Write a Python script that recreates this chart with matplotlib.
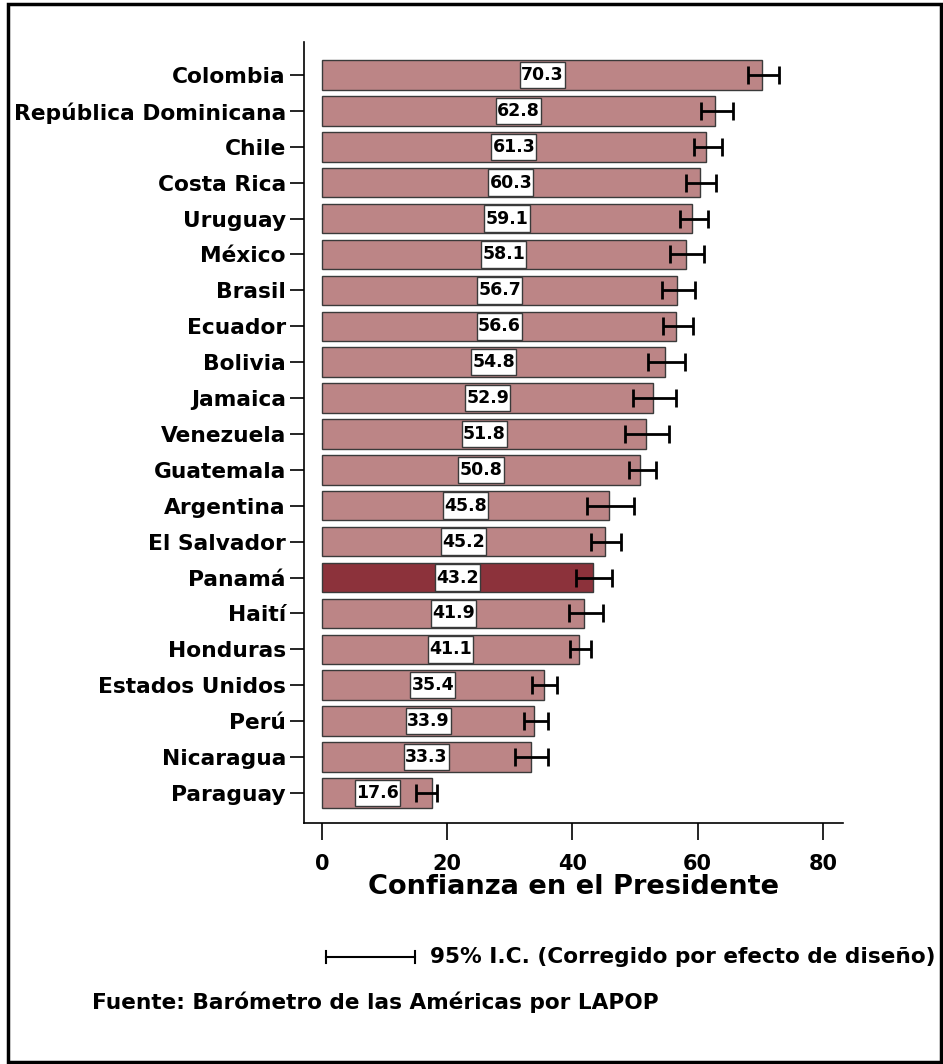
import matplotlib
matplotlib.use("Agg")
import matplotlib.pyplot as plt
from matplotlib.patches import Rectangle
from matplotlib.lines import Line2D

plt.rcParams['font.family'] = ['DejaVu Sans']
plt.rcParams['font.weight'] = 'bold'

countries = ['Colombia', 'República Dominicana', 'Chile', 'Costa Rica', 'Uruguay',
             'México', 'Brasil', 'Ecuador', 'Bolivia', 'Jamaica', 'Venezuela',
             'Guatemala', 'Argentina', 'El Salvador', 'Panamá', 'Haití', 'Honduras',
             'Estados Unidos', 'Perú', 'Nicaragua', 'Paraguay']
values = [70.3, 62.8, 61.3, 60.3, 59.1, 58.1, 56.7, 56.6, 54.8, 52.9, 51.8,
          50.8, 45.8, 45.2, 43.2, 41.9, 41.1, 35.4, 33.9, 33.3, 17.6]
ci_low = [68.0, 60.5, 59.4, 58.1, 57.2, 55.6, 54.3, 54.5, 52.1, 49.7, 48.4,
          49.0, 42.3, 43.0, 40.6, 39.5, 39.6, 33.5, 32.3, 30.8, 15.0]
ci_high = [73.0, 65.6, 63.9, 62.9, 61.7, 61.0, 59.6, 59.3, 58.0, 56.5, 55.4,
           53.4, 49.8, 47.8, 46.3, 44.9, 43.0, 37.5, 36.1, 36.1, 18.4]
highlight = 'Panamá'
xticks = [0, 20, 40, 60, 80]

fig = plt.figure(figsize=(9.43, 10.64), dpi=100)
ax = fig.add_axes([304/943, 1 - 823/1064, (843 - 304)/943, (823 - 42)/1064])

ypos = list(range(len(countries)))
colors = ['#8c323b' if c == highlight else '#bc8586' for c in countries]
ax.barh(ypos, values, height=0.82, color=colors, edgecolor='#3a3a3a', linewidth=1.0, zorder=2)

xerr = [[v - lo for v, lo in zip(values, ci_low)], [hi - v for v, hi in zip(values, ci_high)]]
ax.errorbar(values, ypos, xerr=xerr, fmt='none', ecolor='black', elinewidth=2.0,
            capsize=6.5, capthick=2.0, zorder=3)

# white value boxes centred on half of each bar
box_w = 7.2
ax.barh(ypos, [box_w] * len(values), left=[v / 2 - box_w / 2 for v in values], height=0.74,
        color='white', edgecolor='#3a3a3a', linewidth=1.0, zorder=4)
for y, v in zip(ypos, values):
    ax.text(v / 2, y, f'{v:.1f}', ha='center', va='center', fontsize=12.5, fontweight='bold',
            zorder=5)

ax.set_xlim(-2.87, 83.2)
ax.set_ylim(20.84, -0.92)
ax.set_yticks(ypos)
ax.set_yticklabels(countries, fontsize=15.7, fontweight='bold')
ax.set_xticks(xticks)
ax.set_xticklabels([str(t) for t in xticks], fontsize=15, fontweight='bold')
ax.tick_params(axis='y', length=10, width=1.2, pad=3)
ax.tick_params(axis='x', length=12, width=1.2, pad=10)
ax.spines['top'].set_visible(False)
ax.spines['right'].set_visible(False)
ax.spines['left'].set_linewidth(1.2)
ax.spines['bottom'].set_linewidth(1.2)
ax.set_xlabel('Confianza en el Presidente', fontsize=19.6, fontweight='bold', labelpad=0)

# legend for confidence interval
ly = 1 - 957/1064
x0, x1 = 326/943, 415/943
fig.add_artist(Line2D([x0, x1], [ly, ly], color='black', lw=1.5, transform=fig.transFigure))
for xx in (x0, x1):
    fig.add_artist(Line2D([xx, xx], [ly - 0.006, ly + 0.006], color='black', lw=1.5,
                          transform=fig.transFigure))
fig.text(430/943, ly, '95% I.C. (Corregido por efecto de diseño)', fontsize=15.6,
         fontweight='bold', va='center', ha='left')
fig.text(92/943, 1 - 1002/1064, 'Fuente: Barómetro de las Américas por LAPOP', fontsize=15.6,
         fontweight='bold', va='center', ha='left')

fig.add_artist(Rectangle((8/943, 1 - 1062/1064), (941 - 8)/943, (1062 - 4)/1064,
                         transform=fig.transFigure, fill=False, ec='black', lw=2.5))

fig.savefig('out.png', dpi=100)
